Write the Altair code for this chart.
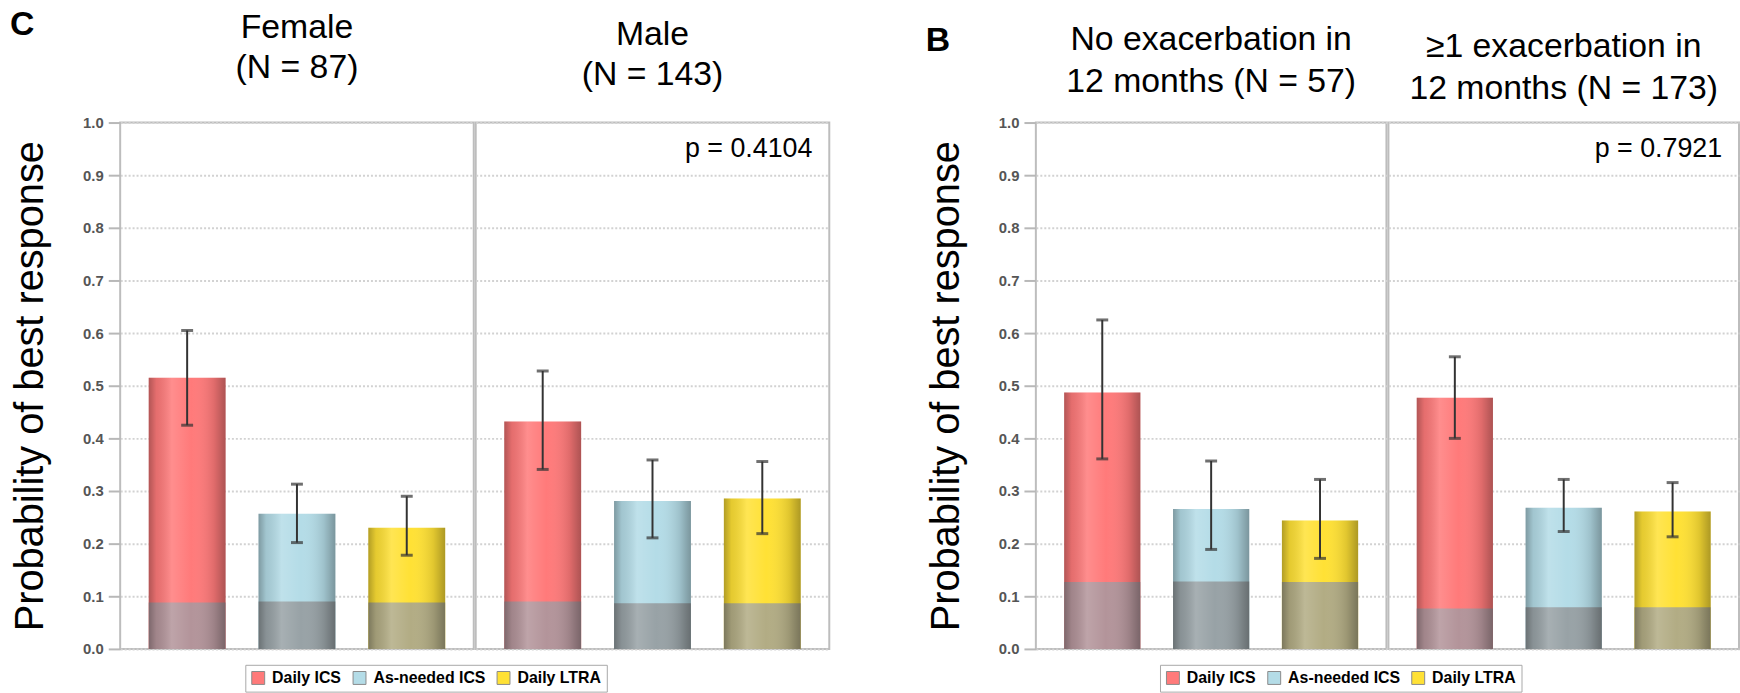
import altair as alt
import pandas as pd

# ---------------- data ----------------
treatments = ["Daily ICS", "As-needed ICS", "Daily LTRA"]

female_prob = [0.515, 0.257, 0.230]
female_low = [0.425, 0.202, 0.178]
female_high = [0.605, 0.313, 0.290]
female_base = [0.088, 0.090, 0.088]

male_prob = [0.432, 0.281, 0.286]
male_low = [0.341, 0.211, 0.219]
male_high = [0.528, 0.359, 0.356]
male_base = [0.090, 0.087, 0.087]

noexac_prob = [0.487, 0.266, 0.244]
noexac_low = [0.361, 0.189, 0.172]
noexac_high = [0.625, 0.357, 0.322]
noexac_base = [0.127, 0.128, 0.127]

exac_prob = [0.477, 0.268, 0.261]
exac_low = [0.400, 0.223, 0.213]
exac_high = [0.555, 0.322, 0.316]
exac_base = [0.077, 0.079, 0.079]

female_title = ["Female", "(N = 87)"]
male_title = ["Male", "(N = 143)"]
noexac_title = ["No exacerbation in", "12 months (N = 57)"]
exac_title = ["\u22651 exacerbation in", "12 months (N = 173)"]

p_left = ["p = 0.4104"]
p_right = ["p = 0.7921"]
letter_left = "C"
letter_right = "B"

y_ticks = [0.0, 0.1, 0.2, 0.3, 0.4, 0.5, 0.6, 0.7, 0.8, 0.9, 1.0]
y_title = "Probability of best response"

# ---------------- styles ----------------
FONT = "Liberation Sans"
main_colors = ["#FF7A7A", "#B4DCE7", "#FFE135"]
base_colors = ["#B3949A", "#98A2A6", "#B2AC84"]
PLOT_H = 530


def make_panel(prob, low, high, base, title_lines, width, first,
               pval=None, line_height=40, title_offset=28, legend_xy=(0, 0)):
    df = pd.DataFrame({"treatment": treatments, "prob": prob, "low": low,
                       "high": high, "base": base})
    xenc = alt.X("treatment:N", sort=treatments,
                 scale=alt.Scale(domain=treatments, paddingInner=0.3,
                                 paddingOuter=0.26),
                 axis=None)
    yscale = alt.Scale(domain=[0, 1], nice=False, zero=True)
    grid_kw = dict(grid=True, gridColor="#d2d2d2", gridDash=[2, 2],
                   gridWidth=2)
    if first:
        yaxis = alt.Axis(values=y_ticks, format=".1f", labelFont=FONT,
                         labelFontSize=15, labelFontWeight="bold",
                         labelColor="#555555", labelPadding=5,
                         tickColor="#b8b8b8", tickSize=12, tickWidth=2,
                         domain=False, title=y_title, titleFont=FONT,
                         titleFontSize=40, titleFontWeight="normal",
                         titleColor="black", titlePadding=32, **grid_kw)
        ytitle = y_title
    else:
        yaxis = alt.Axis(values=y_ticks, labels=False, ticks=False,
                         domain=False, title=None, **grid_kw)
        ytitle = None

    base_chart = alt.Chart(df)
    bars = base_chart.mark_bar().encode(
        x=xenc,
        y=alt.Y("prob:Q", scale=yscale, axis=yaxis, title=ytitle),
        color=alt.Color(
            "treatment:N",
            scale=alt.Scale(domain=treatments, range=main_colors),
            legend=alt.Legend(
                title=None, orient="none", legendX=legend_xy[0],
                legendY=legend_xy[1], direction="horizontal",
                symbolType="square", symbolSize=169,
                symbolStrokeColor="#8a8a8a", symbolStrokeWidth=1,
                labelFont=FONT, labelFontSize=16, labelFontWeight="bold",
                labelColor="black", labelOffset=6, columnPadding=9,
                padding=5, strokeColor="#a8a8a8", fillColor="white"),
        ),
    )
    base_bars = base_chart.mark_bar().encode(
        x=xenc,
        y=alt.Y("base:Q", title=ytitle),
        fill=alt.Fill("treatment:N",
                      scale=alt.Scale(domain=treatments, range=base_colors),
                      legend=None),
    )
    shade = base_chart.mark_bar(
        color=alt.Gradient(
            gradient="linear", x1=0, x2=1, y1=0, y2=0,
            stops=[
                alt.GradientStop(offset=0, color="rgba(0,0,0,0.30)"),
                alt.GradientStop(offset=0.1, color="rgba(0,0,0,0.10)"),
                alt.GradientStop(offset=0.3, color="rgba(255,255,255,0.15)"),
                alt.GradientStop(offset=0.55, color="rgba(255,255,255,0.0)"),
                alt.GradientStop(offset=0.85, color="rgba(0,0,0,0.12)"),
                alt.GradientStop(offset=1, color="rgba(0,0,0,0.32)"),
            ],
        )
    ).encode(x=xenc, y=alt.Y("prob:Q", title=ytitle))
    err = base_chart.mark_rule(color="#333333", strokeWidth=2).encode(
        x=xenc, y=alt.Y("low:Q", title=ytitle), y2="high:Q")
    cap_lo = base_chart.mark_tick(color="#333333", thickness=3,
                                  size=12).encode(
        x=xenc, y=alt.Y("low:Q", title=ytitle))
    cap_hi = base_chart.mark_tick(color="#333333", thickness=3,
                                  size=12).encode(
        x=xenc, y=alt.Y("high:Q", title=ytitle))

    layers = [bars, base_bars, shade, err, cap_lo, cap_hi]
    if pval is not None:
        layers.append(
            alt.Chart(pd.DataFrame({"label": pval})).mark_text(
                font=FONT, fontSize=27, align="right",
                baseline="alphabetic", color="black").encode(
                text="label:N", x=alt.value(width - 17), y=alt.value(35)))

    return alt.layer(*layers).properties(
        width=width, height=PLOT_H,
        title=alt.TitleParams(text=title_lines, font=FONT, fontSize=34,
                              fontWeight="normal", color="black",
                              lineHeight=line_height, offset=title_offset,
                              anchor="middle", frame="group"),
    )


def letter_title(letter, offset):
    return alt.TitleParams(text=letter, anchor="start", frame="bounds",
                           font=FONT, fontSize=34, fontWeight="bold",
                           color="black", baseline="alphabetic",
                           offset=offset)


LEG_L = (126, 546)
LEG_R = (125, 546)

p1 = make_panel(female_prob, female_low, female_high, female_base,
                female_title, 356, True, line_height=40, title_offset=31,
                legend_xy=LEG_L)
p2 = make_panel(male_prob, male_low, male_high, male_base, male_title, 356,
                False, pval=p_left, line_height=40, title_offset=31,
                legend_xy=LEG_L)
p3 = make_panel(noexac_prob, noexac_low, noexac_high, noexac_base,
                noexac_title, 353, True, line_height=42, title_offset=17,
                legend_xy=LEG_R)
p4 = make_panel(exac_prob, exac_low, exac_high, exac_base, exac_title, 353,
                False, pval=p_right, line_height=42, title_offset=17,
                legend_xy=LEG_R)

left = alt.hconcat(p1, p2, spacing=0, title=letter_title(letter_left, -59))
right = alt.hconcat(p3, p4, spacing=0, title=letter_title(letter_right, -63))

chart = alt.hconcat(left, right, spacing=96).resolve_scale(
    color="independent", fill="independent"
).properties(
    padding={"left": 10, "top": 6, "right": 0, "bottom": 0}
).configure_view(
    stroke="#bdbdbd", strokeWidth=2
)

chart.save("out.html", embed_options={"renderer": "svg", "actions": False})
